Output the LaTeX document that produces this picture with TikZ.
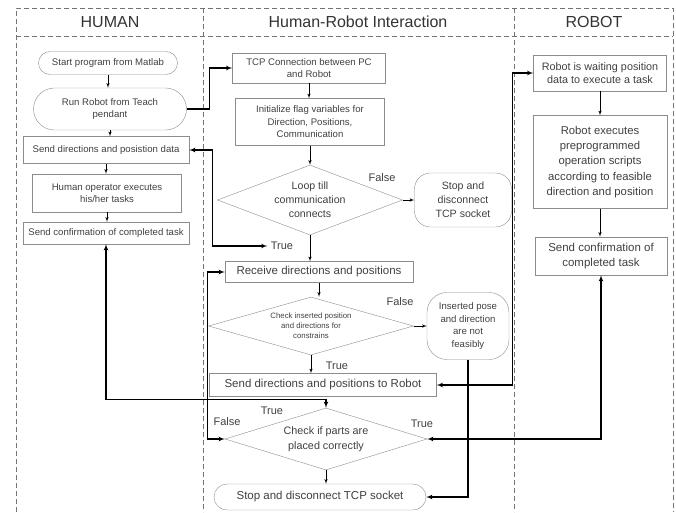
\documentclass[tikz,border=0pt]{standalone}
\usepackage{fontspec}
\setmainfont{Liberation Sans}
\usepackage{tikz}
\usetikzlibrary{arrows,shapes.geometric,shapes.misc,positioning}

\begin{document}
\begin{tikzpicture}[x=1pt,y=-1pt,>=latex',
    lane/.style={draw=black!55,dash pattern=on 5pt off 3pt,line width=0.8pt},
    head/.style={text=black!80,font={\fontsize{16}{18}\selectfont}},
    box/.style={rectangle,draw=black!45,align=center,text=black!75,inner sep=1pt,font={\fontsize{9.6}{12.5}\selectfont}},
    term/.style={box,rounded rectangle},
    soft/.style={box,rounded corners=16pt},
    decision/.style={box,diamond,aspect=2.8,inner sep=0pt},
    big/.style={font={\fontsize{11.5}{15}\selectfont}},
    lbl/.style={text=black!75,font={\fontsize{11}{13}\selectfont}},
    flow/.style={->,line width=0.6pt},
    link/.style={<->,line width=1.1pt}]
%   \draw[help lines] (0,0) grid[step=50] (676,512);
    \useasboundingbox (0,0) rectangle (676,512);

    % swim lanes
    \draw[lane] (16,512) -- (16,8) -- (673,8) -- (673,512);
    \draw[lane] (16,36) -- (673,36);
    \draw[lane] (203,8) -- (203,512);
    \draw[lane] (514,8) -- (514,512);
    \node[head] (human) at (110,22) {HUMAN};
    \node[head] (hri) at (358,22) {Human-Robot Interaction};
    \node[head] (robot) at (594,22) {ROBOT};

    % human side
    \node[term,minimum width=141,minimum height=23] (start) at (108,63) {Start program from Matlab};
    \node[term,minimum width=155,minimum height=42] (run) at (110,109) {Run Robot from Teach\\pendant};
    \node[box,minimum width=166,minimum height=27] (senddata) at (106,150) {Send directions and posistion data};
    \node[box,minimum width=149,minimum height=38] (humanop) at (107,193) {Human operator executes\\his/her tasks};
    \node[box,minimum width=166,minimum height=22] (confirm) at (106,233) {Send confirmation of completed task};

    % interaction
    \node[box,minimum width=153,minimum height=30] (tcp) at (309,68) {TCP Connection between PC\\and Robot};
    \node[box,minimum width=149,minimum height=47] (init) at (310,122) {Initialize flag variables for\\Direction, Positions,\\Communication};
    \node[decision,minimum width=185,minimum height=70,font={\fontsize{10.6}{14}\selectfont}] (loop) at (310,200) {Loop till\\communication\\connects};
    \node[soft,minimum width=97,minimum height=54,font={\fontsize{10.6}{14}\selectfont}] (stop1) at (463,200) {Stop and\\disconnect\\TCP socket};
    \node[lbl] (false1) at (382,178) {False};
    \node[lbl] (true1) at (282,246) {True};

    \node[box,big,minimum width=188,minimum height=21] (receive) at (319,272) {Receive directions and positions};
    \node[decision,minimum width=205,minimum height=58,font={\fontsize{7.8}{10}\selectfont}] (check) at (311,326) {Check inserted position\\and directions for\\constrains};
    \node[soft,rounded corners=20pt,minimum width=82,minimum height=67] (infeas) at (468,326) {Inserted pose\\and direction\\are not\\feasibly};
    \node[lbl] (false2) at (400,302) {False};
    \node[lbl] (true2) at (337,366) {True};

    \node[box,big,minimum width=227,minimum height=23] (sendrobot) at (323,385) {Send directions and positions to Robot};
    \node[decision,minimum width=202,minimum height=62,font={\fontsize{10.8}{15}\selectfont}] (parts) at (326,439) {Check if parts are\\placed correctly};
    \node[lbl] (true3) at (272,411) {True};
    \node[lbl] (false3) at (227,422) {False};
    \node[lbl] (true4) at (422,424) {True};
    \node[term,big,minimum width=214,minimum height=26] (stop2) at (320,497) {Stop and disconnect TCP socket};

    % robot side
    \node[box,minimum width=133,minimum height=36,font={\fontsize{10.8}{13.5}\selectfont}] (wait) at (600,73) {Robot is waiting position\\data to execute a task};
    \node[box,minimum width=134,minimum height=93,font={\fontsize{11.3}{15.3}\selectfont}] (exec) at (600,162) {Robot executes\\preprogrammed\\operation scripts\\according to feasible\\direction and position};
    \node[box,big,minimum width=132,minimum height=38] (rconfirm) at (601,256) {Send confirmation of\\completed task};

    \foreach \from/\to in {start/run,run/senddata,senddata/humanop,humanop/confirm,
        tcp/init,init/loop,loop/receive,receive/check,check/sendrobot,parts/stop2,
        wait/exec,exec/rconfirm}
      \draw[flow] (\from.south) -- (\from.south |- \to.north);
    \draw[flow] (loop.east) -- (stop1.west);
    \draw[flow] (check.east) -- (infeas.west);

    \draw[link,->] (run.east) -- ++(23,0) |- (tcp.west);
    \draw[link] (senddata.east) -- ++(23,0) |- (true1.west);
    \draw[link] (receive.west) -- ++(-17,0) |- (parts.west);
    \draw[link,->] (infeas.south) |- (stop2.east);
    \draw[link] (sendrobot.east) -- ++(76,0) |- (wait.west);
    \draw[link] (parts.east) -| (rconfirm.south);
    \draw[link] (confirm.south) -- ++(0,155) -| (parts.north);
\end{tikzpicture}
\end{document}
